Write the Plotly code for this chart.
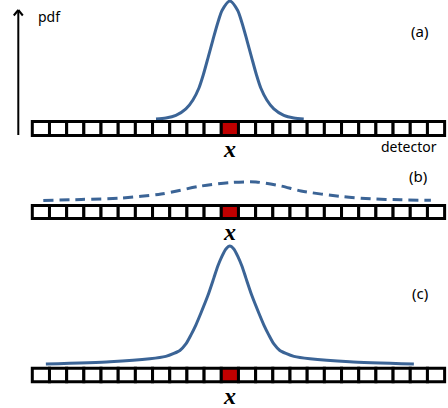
import plotly.graph_objects as go

# ---- data (detector cells, pdf curves) ----
n_cells = 24
red_cell = 11

# (a) narrow pdf
x_a = [7.20, 7.78, 8.36, 8.94, 9.35, 9.70, 9.95, 10.24, 10.51, 10.81, 11.06, 11.50,
       11.94, 12.19, 12.49, 12.76, 13.05, 13.30, 13.65, 14.06, 14.64, 15.22, 15.80]
pdf_a = [0.0, 0.008, 0.030, 0.085, 0.161, 0.263, 0.373, 0.525, 0.669, 0.822, 0.924, 1.0,
         0.924, 0.822, 0.669, 0.525, 0.373, 0.263, 0.161, 0.085, 0.030, 0.008, 0.0]

# (b) broad pdf (dashed)
x_b = [0.64, 2.85, 5.17, 7.50, 9.83, 11.57, 13.02, 14.48, 15.64, 17.97, 19.71, 21.45, 23.20]
pdf_b = [0.004, 0.013, 0.025, 0.059, 0.127, 0.157, 0.161, 0.127, 0.085, 0.038, 0.019, 0.010, 0.006]

# (c) peaked pdf with long tails
x_c = [0.79, 4.52, 6.84, 7.77, 8.24, 8.59, 8.94, 9.23, 9.52, 9.81, 10.22, 10.57, 10.80,
       11.03, 11.27, 11.50, 11.73, 11.97, 12.20, 12.43, 12.78, 13.19, 13.48, 13.77,
       14.06, 14.41, 14.76, 15.23, 16.16, 18.48, 22.21]
pdf_c = [0.0, 0.02, 0.045, 0.065, 0.09, 0.115, 0.17, 0.245, 0.33, 0.43, 0.58, 0.73, 0.83,
         0.91, 0.975, 1.0, 0.975, 0.91, 0.83, 0.73, 0.58, 0.43, 0.33, 0.245,
         0.17, 0.115, 0.09, 0.065, 0.045, 0.02, 0.0]

panel_labels = ["(a)", "(b)", "(c)"]
x_label = "x"
axis_label = "pdf"
detector_label = "detector"

# ---- layout helpers ----
W, H = 448, 408
def py(px):
    return 1 - px / H

BLUE = "#3B6496"
RED = "#C00000"

fig = go.Figure()
fig.add_trace(go.Scatter(x=x_a, y=pdf_a, mode="lines", yaxis="y",
                         line=dict(color=BLUE, width=3, shape="spline", smoothing=0.8),
                         hoverinfo="skip", showlegend=False))
fig.add_trace(go.Scatter(x=x_b, y=pdf_b, mode="lines", yaxis="y2",
                         line=dict(color=BLUE, width=3, shape="spline", smoothing=0.8,
                                   dash="10px,6px"),
                         hoverinfo="skip", showlegend=False))
fig.add_trace(go.Scatter(x=x_c, y=pdf_c, mode="lines", yaxis="y3",
                         line=dict(color=BLUE, width=3, shape="spline", smoothing=0.6),
                         hoverinfo="skip", showlegend=False))

shapes = []
bars = [(121.5, 135.5), (205.5, 218.5), (368.2, 381.8)]
for (top, bot) in bars:
    for i in range(n_cells):
        shapes.append(dict(type="rect", xref="x", yref="paper",
                           x0=i, x1=i + 1, y0=py(bot), y1=py(top),
                           line=dict(color="black", width=3),
                           fillcolor=RED if i == red_cell else "white",
                           layer="above"))

# vertical pdf arrow
ax_x = 18.3
shapes.append(dict(type="line", xref="paper", yref="paper",
                   x0=ax_x / W, x1=ax_x / W, y0=py(135), y1=py(10),
                   line=dict(color="black", width=2)))
shapes.append(dict(type="line", xref="paper", yref="paper",
                   x0=(ax_x - 4.5) / W, x1=ax_x / W, y0=py(15.5), y1=py(10),
                   line=dict(color="black", width=2)))
shapes.append(dict(type="line", xref="paper", yref="paper",
                   x0=(ax_x + 4.5) / W, x1=ax_x / W, y0=py(15.5), y1=py(10),
                   line=dict(color="black", width=2)))

annotations = []
for ypx in (149, 232, 396):
    annotations.append(dict(x=red_cell + 0.5, xref="x", y=py(ypx), yref="paper",
                            text="<i><b>" + x_label + "</b></i>", showarrow=False,
                            xanchor="center", yanchor="middle",
                            font=dict(family="Liberation Serif", size=24, color="black")))
sans = "Noto Sans"
for lab, (xp, ypx) in zip(panel_labels, [(419, 31), (417.5, 176), (420, 293)]):
    annotations.append(dict(x=xp / W, y=py(ypx), xref="paper", yref="paper", text=lab,
                            showarrow=False, xanchor="center", yanchor="middle",
                            font=dict(family=sans, size=15, color="black")))
annotations.append(dict(x=49 / W, y=py(17), xref="paper", yref="paper", text=axis_label,
                        showarrow=False, xanchor="center", yanchor="middle",
                        font=dict(family=sans, size=14, color="black")))
annotations.append(dict(x=408.5 / W, y=py(146), xref="paper", yref="paper",
                        text=detector_label, showarrow=False, xanchor="center",
                        yanchor="middle", font=dict(family=sans, size=14, color="black")))

def yrange(base_px, scale):
    return [(base_px - H) / scale, base_px / scale]

x0u = -32.3 / 17.18
x1u = (W - 32.3) / 17.18
fig.update_layout(
    width=W, height=H, margin=dict(l=0, r=0, t=0, b=0),
    paper_bgcolor="white", plot_bgcolor="white",
    xaxis=dict(range=[x0u, x1u], visible=False, fixedrange=True),
    yaxis=dict(range=yrange(119, 118), visible=False, fixedrange=True),
    yaxis2=dict(range=yrange(201, 118), visible=False, overlaying="y", fixedrange=True),
    yaxis3=dict(range=yrange(364, 118), visible=False, overlaying="y", fixedrange=True),
    shapes=shapes, annotations=annotations, showlegend=False,
)
fig.write_html("out.html", config={"displayModeBar": False},
               post_script="document.body.style.margin='0';document.body.style.padding='0';document.body.style.overflow='hidden';")
